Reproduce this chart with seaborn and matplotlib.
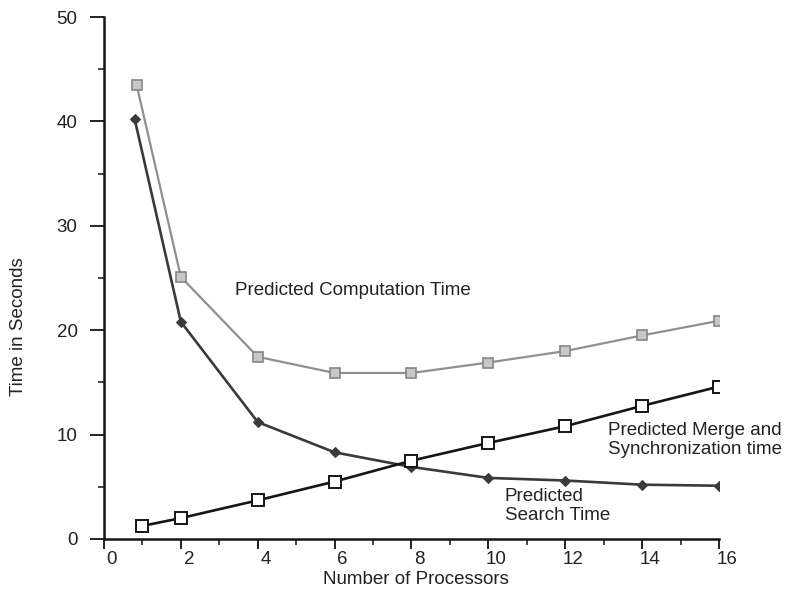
import matplotlib
matplotlib.use("Agg")
import matplotlib.pyplot as plt
from matplotlib.transforms import ScaledTranslation
from matplotlib.ticker import MultipleLocator
import seaborn as sns
import pandas as pd

# Predicted computation time (total)
comp_x = [0.85, 2, 4, 6, 8, 10, 12, 14, 16]
comp_y = [43.5, 25.1, 17.45, 15.9, 15.9, 16.9, 18.0, 19.5, 20.9]

# Predicted search time
search_x = [0.8, 2, 4, 6, 8, 10, 12, 14, 16]
search_y = [40.2, 20.8, 11.2, 8.3, 6.9, 5.85, 5.6, 5.2, 5.1]

# Predicted merge and synchronization time
merge_x = [1, 2, 4, 6, 8, 10, 12, 14, 16]
merge_y = [1.25, 2.0, 3.7, 5.5, 7.5, 9.2, 10.8, 12.75, 14.6]

x_ticks = [0, 2, 4, 6, 8, 10, 12, 14, 16]
y_ticks = [0, 10, 20, 30, 40, 50]

sns.set_theme(style="ticks")
plt.rcParams["font.family"] = ["Liberation Sans", "DejaVu Sans"]

FS = 13.5
TXT = "#222222"

fig = plt.figure(figsize=(7.93, 5.97), dpi=100)
ax = fig.add_axes([0.1311, 0.0972, 0.7756, 0.8743])

comp = pd.DataFrame({"x": comp_x, "y": comp_y})
search = pd.DataFrame({"x": search_x, "y": search_y})
merge = pd.DataFrame({"x": merge_x, "y": merge_y})

sns.lineplot(data=comp, x="x", y="y", ax=ax, color="#909090", linewidth=1.6,
             marker="s", markersize=7, markerfacecolor="#c8c8c8",
             markeredgecolor="#858585", markeredgewidth=1.2, sort=False)
sns.lineplot(data=search, x="x", y="y", ax=ax, color="#3a3a3a", linewidth=1.9,
             marker="D", markersize=5.5, markerfacecolor="#3a3a3a",
             markeredgecolor="#3a3a3a", sort=False)
sns.lineplot(data=merge, x="x", y="y", ax=ax, color="#151515", linewidth=1.9,
             marker="s", markersize=8, markerfacecolor="white",
             markeredgecolor="#151515", markeredgewidth=1.4, sort=False)

ax.set_xlim(0, 16)
ax.set_ylim(0, 50)
ax.set_xticks(x_ticks)
ax.set_yticks(y_ticks)
ax.xaxis.set_minor_locator(MultipleLocator(1))
ax.yaxis.set_minor_locator(MultipleLocator(5))
ax.tick_params(axis="both", which="major", length=8, width=1.4,
               labelsize=FS, colors=TXT, direction="out")
ax.tick_params(axis="both", which="minor", length=4, width=1.2,
               colors=TXT, direction="out")
ax.tick_params(axis="y", which="major", length=10, pad=9)
ax.tick_params(axis="x", which="major", length=7, pad=2)

for lbl in ax.get_xticklabels():
    lbl.set_transform(lbl.get_transform() +
                      ScaledTranslation(8 / 100, 0, fig.dpi_scale_trans))

sns.despine(ax=ax)
for side in ("left", "bottom"):
    ax.spines[side].set_linewidth(1.8)
    ax.spines[side].set_color("#151515")

ax.set_xlabel("Number of Processors", fontsize=FS, color=TXT)
ax.set_ylabel("Time in Seconds", fontsize=FS, color=TXT)
ax.xaxis.set_label_coords(0.507, -0.061)
ax.yaxis.set_label_coords(-0.125, 0.406)

ax.text(3.4, 23.8, "Predicted Computation Time", fontsize=FS,
        color=TXT, va="center", ha="left")
ax.text(13.1, 9.5, "Predicted Merge and\nSynchronization time", fontsize=FS,
        color=TXT, va="center", ha="left", linespacing=1.15)
ax.text(10.43, 3.16, "Predicted\nSearch Time", fontsize=FS,
        color=TXT, va="center", ha="left", linespacing=1.15)

fig.savefig("out.png", dpi=100)
